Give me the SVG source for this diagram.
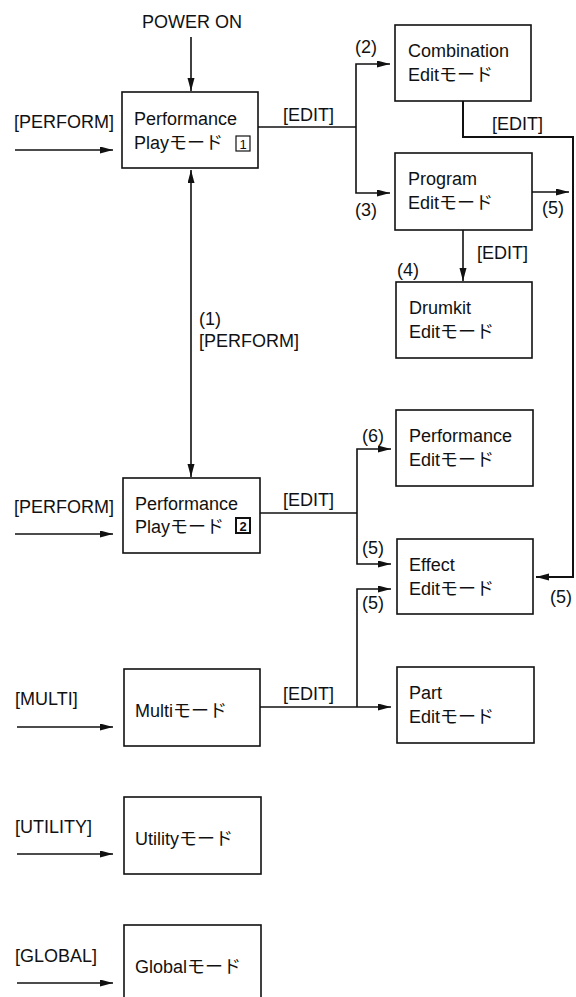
<svg xmlns="http://www.w3.org/2000/svg" width="576" height="997" viewBox="0 0 576 997">
<style>
  text { font-family: "Liberation Sans", "Noto Sans CJK JP", sans-serif; font-size: 18px; fill: #111; }
  .box { fill: #fff; stroke: #111; stroke-width: 1.6; }
  .ln { fill: none; stroke: #111; stroke-width: 1.6; }
  .num { font-size: 13px; text-anchor: middle; }
  .numb { font-size: 13px; font-weight: bold; text-anchor: middle; }
</style>
<defs>
  <marker id="ah" markerUnits="userSpaceOnUse" markerWidth="14" markerHeight="8" refX="13" refY="3.5" orient="auto">
    <path d="M0,0 L13,3.5 L0,7 z" fill="#111"/>
  </marker>
  <marker id="ahs" markerUnits="userSpaceOnUse" markerWidth="14" markerHeight="8" refX="13" refY="3.5" orient="auto-start-reverse">
    <path d="M0,0 L13,3.5 L0,7 z" fill="#111"/>
  </marker>
</defs>

<g id="connectors">
  <!-- power on -->
  <line class="ln" x1="191" y1="37" x2="191" y2="91" marker-end="url(#ah)"/>
  <!-- input arrows -->
  <line class="ln" x1="15" y1="150" x2="113" y2="150" marker-end="url(#ah)"/>
  <line class="ln" x1="15" y1="534" x2="113" y2="534" marker-end="url(#ah)"/>
  <line class="ln" x1="17" y1="727" x2="113" y2="727" marker-end="url(#ah)"/>
  <line class="ln" x1="17" y1="854" x2="113" y2="854" marker-end="url(#ah)"/>
  <line class="ln" x1="17" y1="983" x2="113" y2="983" marker-end="url(#ah)"/>
  <!-- double arrow (1) -->
  <line class="ln" x1="191" y1="170" x2="191" y2="477" marker-start="url(#ahs)" marker-end="url(#ah)"/>
  <!-- Play1 edit -->
  <polyline class="ln" points="258,127 356,127"/>
  <polyline class="ln" points="390,64 356,64 356,193 390,193" marker-start="url(#ahs)" marker-end="url(#ah)"/>
  <!-- Combination edit to effect -->
  <polyline class="ln" points="463,101 463,137 573,137 573,577 536,577" marker-end="url(#ah)" style="stroke-width:2"/>
  <!-- Program to right -->
  <line class="ln" x1="532" y1="192" x2="569" y2="192" marker-end="url(#ah)"/>
  <!-- Program to Drumkit -->
  <line class="ln" x1="463" y1="230" x2="463" y2="281" marker-end="url(#ah)"/>
  <!-- Play2 edit -->
  <polyline class="ln" points="260,513 357,513"/>
  <polyline class="ln" points="391,449 357,449 357,564 391,564" marker-start="url(#ahs)" marker-end="url(#ah)"/>
  <!-- Multi edit -->
  <line class="ln" x1="260" y1="707" x2="391" y2="707" marker-end="url(#ah)"/>
  <polyline class="ln" points="357,707 357,589 391,589" marker-end="url(#ah)"/>
</g>

<g id="labels">
  <text x="192" y="28" text-anchor="middle">POWER ON</text>
  <text x="14" y="128">[PERFORM]</text>
  <text x="283" y="121">[EDIT]</text>
  <text x="355" y="53">(2)</text>
  <text x="355" y="216">(3)</text>
  <text x="492" y="130">[EDIT]</text>
  <text x="542" y="214">(5)</text>
  <text x="477" y="259">[EDIT]</text>
  <text x="397" y="276">(4)</text>
  <text x="199" y="325">(1)</text>
  <text x="199" y="347">[PERFORM]</text>
  <text x="362" y="442">(6)</text>
  <text x="14" y="513">[PERFORM]</text>
  <text x="283" y="506">[EDIT]</text>
  <text x="362" y="554">(5)</text>
  <text x="362" y="609">(5)</text>
  <text x="550" y="603">(5)</text>
  <text x="15" y="705">[MULTI]</text>
  <text x="283" y="700">[EDIT]</text>
  <text x="15" y="833">[UTILITY]</text>
  <text x="15" y="962">[GLOBAL]</text>
</g>

<g id="play1">
  <rect class="box" x="122" y="92" width="136" height="76"/>
  <text x="134" y="125">Performance</text>
  <text x="134" y="149">Playモード</text>
  <rect x="236" y="136" width="14" height="15" fill="none" stroke="#111" stroke-width="1.2"/>
  <text class="num" x="243" y="149">1</text>
</g>
<g id="play2">
  <rect class="box" x="123" y="478" width="137" height="75"/>
  <text x="135" y="510">Performance</text>
  <text x="135" y="533">Playモード</text>
  <rect x="236" y="518" width="14" height="15" fill="none" stroke="#111" stroke-width="2"/>
  <text class="numb" x="243" y="531">2</text>
</g>
<g id="combination">
  <rect class="box" x="395" y="25" width="136" height="76"/>
  <text x="408" y="57">Combination</text>
  <text x="408" y="81">Editモード</text>
</g>
<g id="program">
  <rect class="box" x="395" y="153" width="137" height="77"/>
  <text x="408" y="185">Program</text>
  <text x="408" y="209">Editモード</text>
</g>
<g id="drumkit">
  <rect class="box" x="396" y="282" width="136" height="76"/>
  <text x="409" y="314">Drumkit</text>
  <text x="409" y="338">Editモード</text>
</g>
<g id="perfedit">
  <rect class="box" x="396" y="410" width="137" height="76"/>
  <text x="409" y="442">Performance</text>
  <text x="409" y="466">Editモード</text>
</g>
<g id="effect">
  <rect class="box" x="397" y="539" width="136" height="75"/>
  <text x="409" y="571">Effect</text>
  <text x="409" y="595">Editモード</text>
</g>
<g id="part">
  <rect class="box" x="397" y="667" width="137" height="76"/>
  <text x="409" y="699">Part</text>
  <text x="409" y="723">Editモード</text>
</g>
<g id="multi">
  <rect class="box" x="124" y="669" width="136" height="77"/>
  <text x="135" y="717">Multiモード</text>
</g>
<g id="utility">
  <rect class="box" x="124" y="797" width="137" height="77"/>
  <text x="135" y="845">Utilityモード</text>
</g>
<g id="global">
  <rect class="box" x="124" y="925" width="137" height="80"/>
  <text x="135" y="973">Globalモード</text>
</g>
</svg>
